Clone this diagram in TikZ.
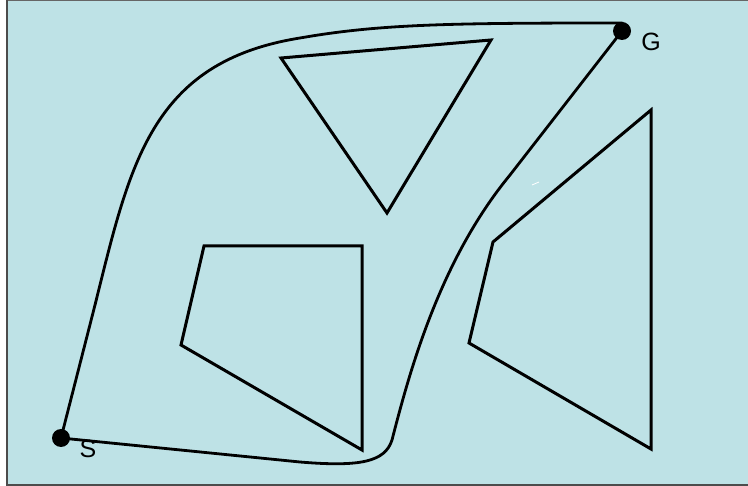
\documentclass[tikz,border=0pt]{standalone}
\usepackage{fontspec}
\setmainfont{Liberation Sans}
\definecolor{bgc}{RGB}{190,226,230}
\begin{document}
\begin{tikzpicture}[x=1pt,y=-1pt,
  obst/.style={draw=black,line width=3pt,line join=miter},
  route/.style={draw=black,line width=2.8pt,line join=round},
  dot/.style={circle,fill=black,inner sep=0pt,minimum size=18pt},
  lbl/.style={font=\fontsize{25}{25}\selectfont,inner sep=0pt}]
\useasboundingbox (0,0) rectangle (748,486);
\fill[white] (0,0) rectangle (748,486);
\fill[bgc] (7,0) rectangle (748,485);
\draw[gray!80!black,line width=1.5pt] (7,0.5) -- (748,0.5);
\draw[black!70,line width=2pt] (7,0) -- (7,485) -- (748,485);
% obstacles
\draw[obst] (281,58) -- (491,40) -- (387,213) -- cycle;
\draw[obst] (204,246) -- (362,246) -- (362,450) -- (181,345) -- cycle;
\draw[obst] (651,110) -- (651,449) -- (469,343) -- (493,242) -- cycle;
% start and goal
\node[dot] (S) at (61,438) {};
\node[dot] (G) at (622,31) {};
\node[lbl] (Sl) at (88,449) {S};
\node[lbl] (Gl) at (651,42) {G};
% routes
\draw[route] (S.center) -- (95,305) .. controls (130,165) and (150,62) .. (300,38)
  .. controls (380,24) and (450,23) .. (622,23) -- (G.north);
\draw[route] (S.center) -- (300,462) .. controls (360,467) and (385,462) .. (392,440)
  .. controls (410,370) and (440,260) .. (510,175) -- (G.center);
\draw[white,line width=0.8pt] (532,185) -- (539,182);
\end{tikzpicture}
\end{document}
